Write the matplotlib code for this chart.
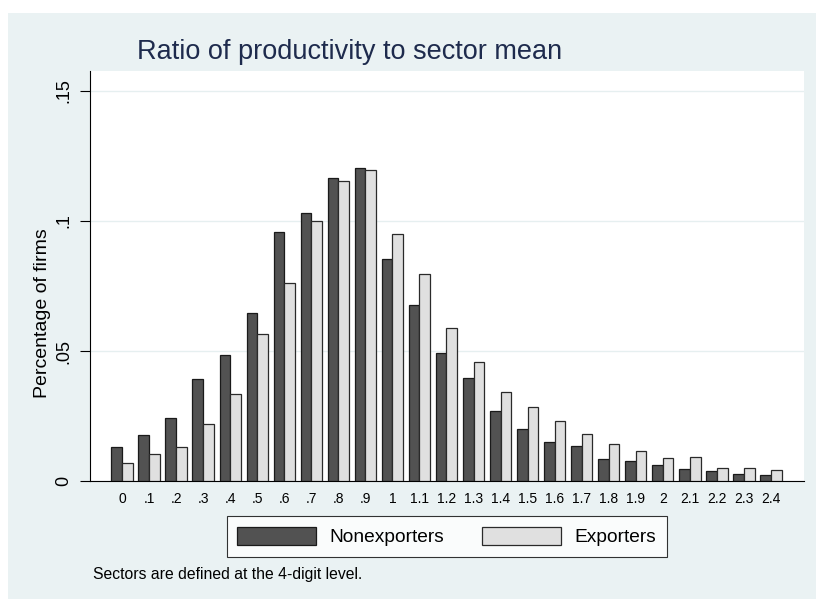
import matplotlib
matplotlib.use("Agg")
import matplotlib.pyplot as plt
from matplotlib.patches import Rectangle
import numpy as np

plt.rcParams['font.family'] = ['Liberation Sans', 'DejaVu Sans']

# Ratio of firm productivity to its sector mean (bin labels)
ratio_bins = ['0', '.1', '.2', '.3', '.4', '.5', '.6', '.7', '.8', '.9',
              '1', '1.1', '1.2', '1.3', '1.4', '1.5', '1.6', '1.7', '1.8', '1.9',
              '2', '2.1', '2.2', '2.3', '2.4']

# Share of firms in each bin
nonexporters = [0.0132, 0.0176, 0.0241, 0.0392, 0.0485, 0.0646, 0.0956, 0.1031,
                0.1164, 0.1205, 0.0855, 0.0676, 0.0491, 0.0396, 0.0268, 0.0200,
                0.0151, 0.0133, 0.0083, 0.0078, 0.0060, 0.0046, 0.0040, 0.0028,
                0.0023]
exporters = [0.0068, 0.0103, 0.0132, 0.0218, 0.0336, 0.0565, 0.0763, 0.0999,
             0.1154, 0.1197, 0.0951, 0.0795, 0.0590, 0.0456, 0.0344, 0.0286,
             0.0231, 0.0181, 0.0141, 0.0115, 0.0090, 0.0092, 0.0051, 0.0049,
             0.0044]

yticks = [0, 0.05, 0.10, 0.15]
ytick_labels = ['0', '.05', '.1', '.15']

W, H = 816, 599
BG = '#eaf2f3'
fig = plt.figure(figsize=(W / 100, H / 100), dpi=100, facecolor='white')

# graph region background
fig.patches.append(Rectangle((8 / W, 0), 1 - 8 / W, (H - 13) / H,
                             transform=fig.transFigure, facecolor=BG,
                             edgecolor='none', zorder=-10))

left, right, top, bottom = 90, 804, 71, 481
ax = fig.add_axes([left / W, (H - bottom) / H, (right - left) / W, (bottom - top) / H])
ax.set_facecolor('white')

x = np.arange(len(ratio_bins))
bw = 0.394
ax.bar(x - bw / 2, nonexporters, width=bw, color='#525252', edgecolor='#1a1a1a',
       linewidth=0.9, label='Nonexporters', zorder=3)
ax.bar(x + bw / 2, exporters, width=bw, color='#e0e0e0', edgecolor='#2a2a2a',
       linewidth=0.9, label='Exporters', zorder=3)

ax.set_xlim(-1.183, 25.22)
ax.set_ylim(0, 0.1577)

ax.set_xticks(x)
ax.set_xticklabels(ratio_bins, fontsize=10)
ax.tick_params(axis='x', length=0, pad=8)

ax.set_yticks(yticks)
ax.set_yticklabels(ytick_labels, fontsize=13, rotation=90, va='center')
ax.tick_params(axis='y', length=7.2, width=0.8, pad=5.5)

ax.grid(axis='y', color='#e6eff0', linewidth=1.0, zorder=0)
ax.set_axisbelow(True)

for s in ('top', 'right'):
    ax.spines[s].set_visible(False)
ax.spines['left'].set_linewidth(0.8)
ax.spines['bottom'].set_linewidth(0.8)

fig.text(43 / W, (H - 313) / H, 'Percentage of firms', rotation=90,
         ha='center', va='center', fontsize=14)

fig.text(137 / W, (H - 59.3) / H, 'Ratio of productivity to sector mean',
         ha='left', va='baseline', fontsize=19.5, color='#1e2b4d')

leg = ax.legend(loc='center', bbox_to_anchor=(446.7 / W, (H - 536.6) / H),
                bbox_transform=fig.transFigure, ncol=2, fontsize=13.8,
                frameon=True, fancybox=False, edgecolor='black',
                handlelength=4.1, handleheight=1.1, handletextpad=0.7,
                columnspacing=2.0, borderpad=0.55)
leg.get_frame().set_linewidth(0.8)
leg.get_frame().set_facecolor('white')

fig.text(92.7 / W, (H - 574) / H, 'Sectors are defined at the 4-digit level.',
         ha='left', va='center', fontsize=11.3)

fig.savefig('out.png', dpi=100, facecolor=fig.get_facecolor())
